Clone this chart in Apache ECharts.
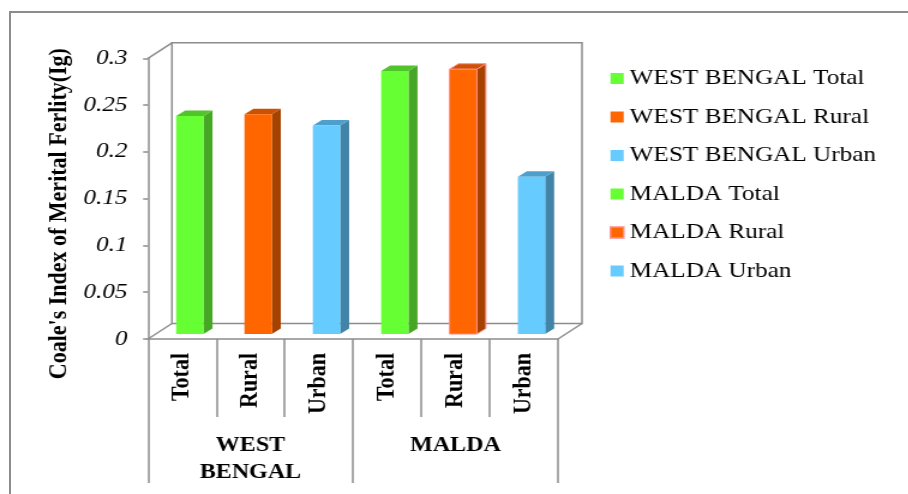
<!DOCTYPE html>
<html>
<head>
<meta charset="utf-8">
<script src="https://cdn.jsdelivr.net/npm/echarts@6/dist/echarts.min.js"></script>
<style>
  html, body { margin: 0; padding: 0; background: #fff; overflow: hidden; }
  #frame {
    position: absolute; left: 9px; top: 11px; width: 960px; height: 520px;
    border-left: 2px solid #8c8c8c; border-top: 2px solid #8c8c8c;
  }
  /* The chart is laid out on a narrower canvas and widened horizontally */
  #chart {
    position: absolute; left: 0; top: 0; width: 757px; height: 494px;
    transform: scaleX(1.2); transform-origin: 0 0;
  }
</style>
</head>
<body>
<div id="frame"></div>
<div id="chart"></div>
<script>
// Coale's index of marital fertility (Ig) by area
const regionLabels = ['WEST\nBENGAL', 'MALDA'];
const categories = ['Total', 'Rural', 'Urban', 'Total', 'Rural', 'Urban'];
const seriesNames = [
  'WEST BENGAL Total', 'WEST BENGAL Rural', 'WEST BENGAL Urban',
  'MALDA Total', 'MALDA Rural', 'MALDA Urban'
];
const values = [0.233, 0.235, 0.223, 0.281, 0.283, 0.168];
const yMin = 0, yMax = 0.3, yStep = 0.05;

const FONT = "'Liberation Serif', 'Times New Roman', serif";
const AXIS_GRAY = '#8c8c8c';

// front / side / top shades for each bar
const palette = {
  green:  { front: '#66FF33', side: '#46A625', top: '#52C42B' },
  orange: { front: '#FF6600', side: '#A54200', top: '#CC5200' },
  blue:   { front: '#66CCFF', side: '#4284A8', top: '#4E9FCB' }
};
const barColors = ['green', 'orange', 'blue', 'green', 'orange', 'blue'];
const barBorders = [null, null, null, null, '#FF8C8C', null];

// oblique depth of the plot box, in pixels
const DEPTH_X = 20, DEPTH_Y = -15.5;
const BAR_POS = 0.32;          // fraction of depth where a bar's front face sits
const BAR_DX = 7.5, BAR_DY = -5.5;

function makeBarRenderer(shade, border) {
  return function (params, api) {
    const cat = api.value(0), v = api.value(1);
    const base = api.coord([cat, 0]);
    const top = api.coord([cat, v]);
    const band = api.size([1, 0])[0];
    const w = band * 0.4;
    const ox = DEPTH_X * BAR_POS, oy = DEPTH_Y * BAR_POS;
    const x0 = base[0] - w / 2 + ox, x1 = x0 + w;
    const yb = base[1] + oy, yt = top[1] + oy;
    const stroke = border ? { stroke: border, lineWidth: 1 } : {};
    return {
      type: 'group',
      children: [
        { type: 'polygon', shape: { points: [[x1, yt], [x1 + BAR_DX, yt + BAR_DY], [x1 + BAR_DX, yb + BAR_DY], [x1, yb]] },
          style: Object.assign({ fill: shade.side }, stroke) },
        { type: 'polygon', shape: { points: [[x0, yt], [x0 + BAR_DX, yt + BAR_DY], [x1 + BAR_DX, yt + BAR_DY], [x1, yt]] },
          style: Object.assign({ fill: shade.top }, stroke) },
        { type: 'rect', shape: { x: x0, y: yt, width: w, height: yb - yt },
          style: Object.assign({ fill: shade.front }, stroke) }
      ]
    };
  };
}

// back wall and depth edges of the 3-D box
function renderBox(params, api) {
  const band = api.size([1, 0])[0];
  const L = api.coord([0, yMin])[0] - band / 2;
  const R = api.coord([categories.length - 1, yMin])[0] + band / 2;
  const y0 = api.coord([0, yMin])[1];
  const y1 = api.coord([0, yMax])[1];
  const st = { stroke: AXIS_GRAY, lineWidth: 1.5, fill: null };
  const line = (a, b) => ({ type: 'line', shape: { x1: a[0], y1: a[1], x2: b[0], y2: b[1] }, style: st });
  return {
    type: 'group',
    children: [
      { type: 'rect', shape: { x: L + DEPTH_X, y: y1 + DEPTH_Y, width: R - L, height: y0 - y1 }, style: st },
      line([L, y1], [L + DEPTH_X, y1 + DEPTH_Y]),
      line([L, y0], [L + DEPTH_X, y0 + DEPTH_Y]),
      line([R, y0], [R + DEPTH_X, y0 + DEPTH_Y])
    ]
  };
}

const barSeries = seriesNames.map((name, i) => ({
  name: name,
  type: 'custom',
  renderItem: makeBarRenderer(palette[barColors[i]], barBorders[i]),
  itemStyle: { color: palette[barColors[i]].front },
  data: [[i, values[i]]],
  silent: true,
  z: 3
}));

const chart = echarts.init(document.getElementById('chart'), null, { renderer: 'canvas' });
chart.setOption({
  animation: false,
  backgroundColor: 'transparent',
  grid: { left: 123.3, right: 292, top: 58.3, bottom: 155 },
  legend: {
    orient: 'vertical',
    left: 503, top: 62.5,
    icon: 'rect',
    itemWidth: 11, itemHeight: 11, itemGap: 16.5,
    textStyle: { fontFamily: FONT, fontSize: 21, lineHeight: 22, color: '#000' },
    data: seriesNames.map((name, i) => ({
      name: name,
      itemStyle: barBorders[i]
        ? { color: palette[barColors[i]].front, borderColor: barBorders[i], borderWidth: 1.5 }
        : { color: palette[barColors[i]].front, borderWidth: 0 }
    }))
  },
  xAxis: [
    {
      type: 'category',
      data: categories,
      position: 'bottom',
      axisLine: { show: true, lineStyle: { color: AXIS_GRAY, width: 1.5 } },
      axisTick: { show: true, interval: 0, length: 78, lineStyle: { color: AXIS_GRAY, width: 1.5 } },
      axisLabel: { interval: 0, rotate: 90, margin: 14, fontFamily: FONT, fontSize: 22, fontWeight: 'bold', color: '#000' },
      splitLine: { show: false }
    },
    {
      type: 'category',
      data: regionLabels,
      position: 'bottom',
      axisLine: { show: false },
      axisTick: { show: true, interval: 0, length: 144, lineStyle: { color: AXIS_GRAY, width: 1.5 } },
      axisLabel: { interval: 0, margin: 93, fontFamily: FONT, fontSize: 20, lineHeight: 27, fontWeight: 'bold', color: '#000' },
      splitLine: { show: false }
    }
  ],
  yAxis: {
    type: 'value',
    min: yMin, max: yMax, interval: yStep,
    name: "Coale's Index of Merital Ferlity(Ig)",
    nameLocation: 'middle',
    nameRotate: 90,
    nameGap: 63,
    nameTextStyle: { fontFamily: FONT, fontSize: 22, fontWeight: 'bold', color: '#000', padding: [0, 30, 0, 0] },
    axisLine: { show: true, lineStyle: { color: AXIS_GRAY, width: 1.5 } },
    axisTick: { show: true, length: 4, lineStyle: { color: AXIS_GRAY, width: 1.5 } },
    axisLabel: { margin: 17, fontFamily: FONT, fontSize: 21, fontStyle: 'italic', color: '#000' },
    splitLine: { show: false }
  },
  series: [
    {
      name: 'box',
      type: 'custom',
      renderItem: renderBox,
      data: [[0, 0]],
      silent: true,
      z: 1
    }
  ].concat(barSeries)
});
</script>
</body>
</html>
